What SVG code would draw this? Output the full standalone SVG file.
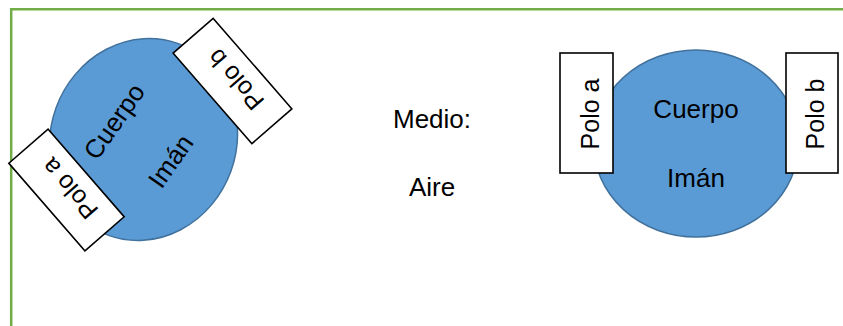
<svg xmlns="http://www.w3.org/2000/svg" width="843" height="326" viewBox="0 0 843 326">
  <style>
    .frame { fill: none; stroke: #70AD47; stroke-width: 2.5; }
    .body { fill: #5B9BD5; stroke: #41719C; stroke-width: 1.5; }
    .pole { fill: #FFFFFF; stroke: #000000; stroke-width: 1.6; }
    .lbl { font-family: "Liberation Sans", Arial, sans-serif; font-size: 26px; fill: #000000; text-anchor: middle; }
    .plbl { font-size: 25px; }
  </style>

  <!-- page frame: top and left edges -->
  <path class="frame" d="M11.2 326 V9.2 H843"/>

  <!-- tilted magnet -->
  <g id="magnet-tilted">
    <ellipse class="body" cx="143.5" cy="139.5" rx="102" ry="93" transform="rotate(-70 143.5 139.5)"/>
    <g transform="translate(142 141) rotate(-55)">
      <text class="lbl" x="0" y="-25">Cuerpo</text>
      <text class="lbl" x="0" y="44">Imán</text>
    </g>
    <g id="pole-a-tilted" transform="translate(66.5 190) rotate(-41)">
      <rect class="pole" x="-26" y="-58" width="52" height="116"/>
      <text class="lbl plbl" transform="rotate(-90)" x="-1" y="12">Polo a</text>
    </g>
    <g id="pole-b-tilted" transform="translate(232.5 81) rotate(-41)">
      <rect class="pole" x="-26.5" y="-60" width="53" height="120"/>
      <text class="lbl plbl" transform="rotate(-90)" x="-1" y="12">Polo b</text>
    </g>
  </g>

  <!-- medium label -->
  <g id="medium">
    <text class="lbl" x="432" y="128">Medio:</text>
    <text class="lbl" x="432" y="196">Aire</text>
  </g>

  <!-- upright magnet -->
  <g id="magnet-upright">
    <ellipse class="body" cx="696" cy="143.5" rx="102.5" ry="93.5"/>
    <text class="lbl" x="696" y="118">Cuerpo</text>
    <text class="lbl" x="696" y="187">Imán</text>
    <g id="pole-a-upright" transform="translate(586.5 113)">
      <rect class="pole" x="-26.5" y="-60" width="53" height="120"/>
      <text class="lbl plbl" transform="rotate(-90)" x="-1" y="12">Polo a</text>
    </g>
    <g id="pole-b-upright" transform="translate(812 113)">
      <rect class="pole" x="-26" y="-60" width="52" height="120"/>
      <text class="lbl plbl" transform="rotate(-90)" x="-1" y="12">Polo b</text>
    </g>
  </g>
</svg>
